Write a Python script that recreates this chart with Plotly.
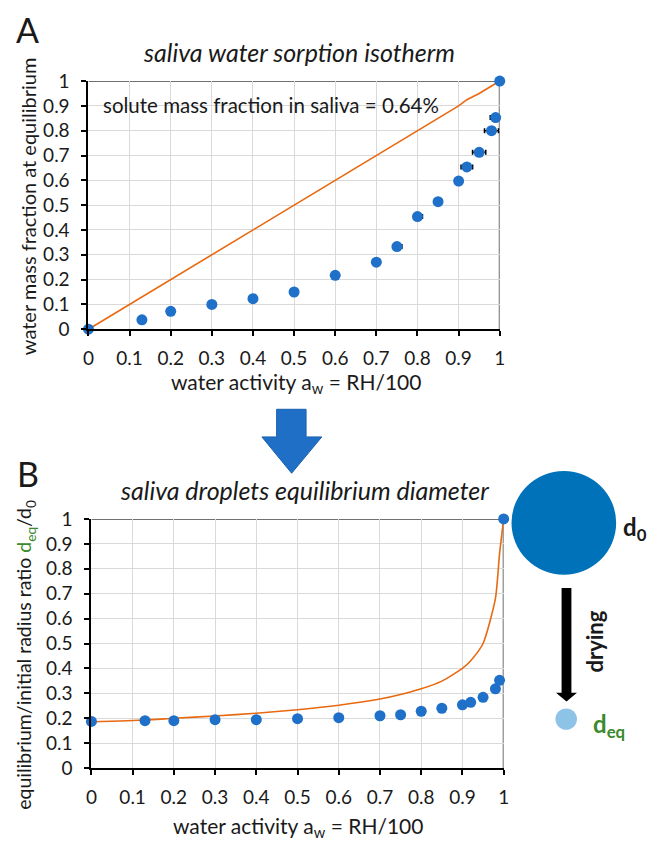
import plotly.graph_objects as go

W, H = 652, 853

# ---------------- data ----------------
aw_pts = [0, 0.13, 0.2, 0.3, 0.4, 0.5, 0.6, 0.7, 0.75, 0.8, 0.85, 0.9, 0.92, 0.95, 0.98, 0.99, 1.0]
water_frac = [0, 0.038, 0.072, 0.10, 0.123, 0.150, 0.217, 0.27, 0.333, 0.454, 0.514, 0.597, 0.654, 0.713, 0.80, 0.853, 1.0]
aw_err_plus = [0, 0, 0, 0, 0, 0, 0, 0, 0.012, 0.012, 0.006, 0.003, 0.014, 0.016, 0.017, 0.009, 0]
aw_err_minus = [0, 0, 0, 0, 0, 0, 0, 0, 0.004, 0.004, 0.003, 0.003, 0.014, 0.016, 0.017, 0.013, 0]

model_aw = [0, 0.13, 0.2, 0.3, 0.4, 0.5, 0.6, 0.7, 0.75, 0.8, 0.85, 0.9, 0.92, 0.95, 0.98, 0.99, 1.0]
model_water = [0, 0.13, 0.2, 0.3, 0.4, 0.5, 0.6, 0.7, 0.75, 0.8, 0.85, 0.9, 0.925, 0.95, 0.98, 0.99, 1.0]

ratio_pts = [0.187, 0.19, 0.19, 0.194, 0.194, 0.198, 0.202, 0.21, 0.214, 0.228, 0.24, 0.254, 0.264, 0.284, 0.318, 0.352, 1.0]
model_ratio = [0.186, 0.193, 0.2, 0.209, 0.22, 0.234, 0.252, 0.277, 0.295, 0.318, 0.349, 0.4, 0.431, 0.5, 0.68, 0.86, 1.0]

ticks = [0, 0.1, 0.2, 0.3, 0.4, 0.5, 0.6, 0.7, 0.8, 0.9, 1]

BLUE = "#1F70C8"
ORANGE = "#E8690F"
GREEN = "#3A8A2E"
FONT = "Lato"
TXT = "#1a1a1a"


def px(x):
    return x / W


def py(y):
    return 1 - y / H


fig = go.Figure()

# Panel A
fig.add_trace(go.Scatter(x=model_aw, y=model_water, mode="lines", line=dict(color=ORANGE, width=1.6),
                         xaxis="x", yaxis="y", showlegend=False, hoverinfo="skip"))
fig.add_trace(go.Scatter(x=aw_pts, y=water_frac, mode="markers",
                         marker=dict(color=BLUE, size=11),
                         error_x=dict(type="data", symmetric=False, array=aw_err_plus, arrayminus=aw_err_minus,
                                      color="black", thickness=1.6, width=2.5),
                         xaxis="x", yaxis="y", showlegend=False, cliponaxis=False))

# Panel B
fig.add_trace(go.Scatter(x=model_aw, y=model_ratio, mode="lines", line=dict(color=ORANGE, width=1.6, shape="spline", smoothing=0.6),
                         xaxis="x2", yaxis="y2", showlegend=False, hoverinfo="skip"))
fig.add_trace(go.Scatter(x=aw_pts, y=ratio_pts, mode="markers",
                         marker=dict(color=BLUE, size=11),
                         xaxis="x2", yaxis="y2", showlegend=False, cliponaxis=False))

axis_common = dict(range=[0, 1], tickvals=ticks, showgrid=True, gridcolor="#D9D9D9", gridwidth=1,
                   showline=True, linecolor="black", linewidth=2, ticks="outside", ticklen=5,
                   tickwidth=1.5, tickcolor="black", zeroline=False,
                   tickfont=dict(family=FONT, size=19, color=TXT))

fig.update_layout(
    width=W, height=H, margin=dict(l=0, r=0, t=0, b=0),
    paper_bgcolor="white", plot_bgcolor="white",
    xaxis=dict(axis_common, domain=[px(84), px(503)], anchor="y", ticklabelstandoff=6),
    yaxis=dict(axis_common, domain=[py(326), py(71)], anchor="x", ticklabelstandoff=8),
    xaxis2=dict(axis_common, domain=[px(87), px(507)], anchor="y2", ticklabelstandoff=6),
    yaxis2=dict(axis_common, domain=[py(777), py(521)], anchor="x2", ticklabelstandoff=8),
)

shapes = []
for xr, yr in (("x", "y"), ("x2", "y2")):
    shapes.append(dict(type="line", xref=xr, yref=yr, x0=0, x1=1, y0=1, y1=1, line=dict(color="#404040", width=1.5), layer="below"))
    shapes.append(dict(type="line", xref=xr, yref=yr, x0=1, x1=1, y0=0, y1=1, line=dict(color="#707070", width=2), layer="below"))

# big blue block arrow between panels
arrow_pts = [(275.7, 408.3), (305.7, 408.3), (305.7, 436.7), (321.7, 436.7), (291, 474), (260.7, 436.7), (275.7, 436.7)]
path = "M " + " L ".join(f"{px(a):.5f},{py(b):.5f}" for a, b in arrow_pts) + " Z"
shapes.append(dict(type="path", xref="paper", yref="paper", path=path, fillcolor="#1F6FC6",
                   line=dict(color="#1A62B0", width=1)))

# initial droplet circle
cx, cy, r = 568.3, 525, 53.3
shapes.append(dict(type="circle", xref="paper", yref="paper", x0=px(cx - r), x1=px(cx + r), y0=py(cy + r), y1=py(cy - r),
                   fillcolor="#0072BA", line=dict(width=0)))
# black drying arrow
darrow = [(566, 592), (576, 592), (576, 699.5), (581.7, 699.5), (571, 708.5), (560.3, 699.5), (566, 699.5)]
path2 = "M " + " L ".join(f"{px(a):.5f},{py(b):.5f}" for a, b in darrow) + " Z"
shapes.append(dict(type="path", xref="paper", yref="paper", path=path2, fillcolor="black", line=dict(width=0)))
# small equilibrium droplet
cx2, cy2, r2 = 570.7, 726.7, 11
shapes.append(dict(type="circle", xref="paper", yref="paper", x0=px(cx2 - r2), x1=px(cx2 + r2), y0=py(cy2 + r2), y1=py(cy2 - r2),
                   fillcolor="#8EC3E8", line=dict(width=0)))

fig.update_layout(shapes=shapes)


def ann(text, x, y, size, angle=0, xanchor="center", color=TXT, bold=False, italic=False):
    t = text
    if bold:
        t = f"<b>{t}</b>"
    if italic:
        t = f"<i>{t}</i>"
    return dict(text=t, x=px(x), y=py(y), xref="paper", yref="paper", showarrow=False, textangle=angle,
                xanchor=xanchor, yanchor="middle", font=dict(family=FONT, size=size, color=color))


annotations = [
    ann("A", 22, 18, 34),
    ann("saliva water sorption isotherm", 298, 41, 25, italic=True),
    ann("solute mass fraction in saliva = 0.64%", 97, 96, 20.5, xanchor="left"),
    ann("water mass fraction at equilibrium", 22, 200, 20, angle=-90),
    ann("water activity a<sub>w</sub> = RH/100", 295, 381, 21),
    ann("B", 22, 474, 34),
    ann("saliva droplets equilibrium diameter", 304, 491, 25, italic=True),
    ann(f"equilibrium/initial radius ratio <span style='color:{GREEN}'>d<sub>eq</sub></span>/d<sub>0</sub>", 20, 661, 19.5, angle=-90),
    ann("water activity a<sub>w</sub> = RH/100", 297, 838, 21),
    ann("d<sub>0</sub>", 627, 531, 24, xanchor="left", bold=True),
    ann("drying", 600, 647, 22, angle=-90, bold=True),
    ann("d<sub>eq</sub>", 596, 733, 24, xanchor="left", bold=True, color=GREEN),
]
fig.update_layout(annotations=annotations)

fig.write_html("out.html")
